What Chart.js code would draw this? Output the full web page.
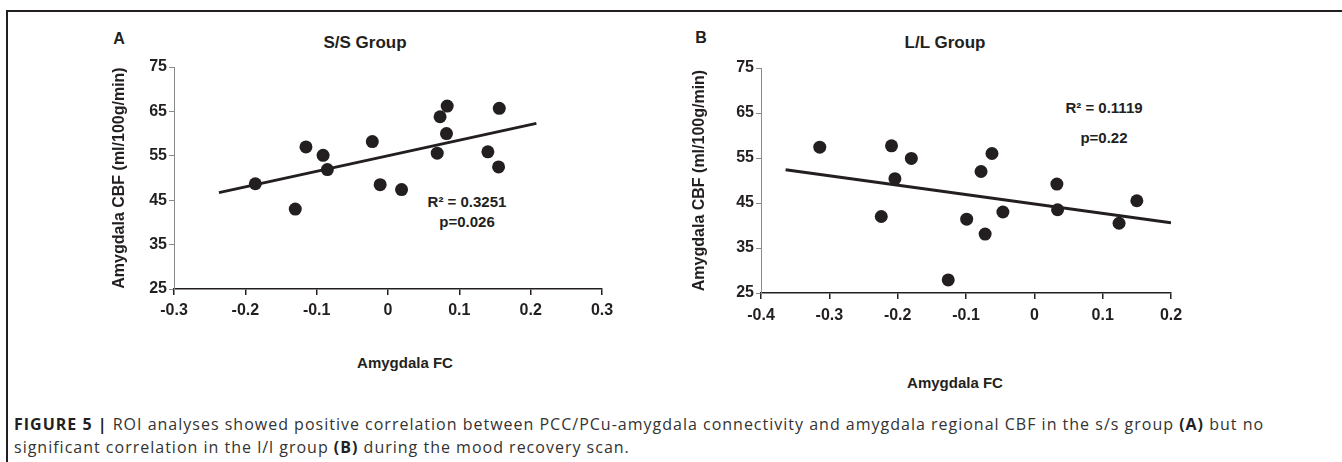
<!DOCTYPE html>
<html>
<head>
<meta charset="utf-8">
<script src="https://cdn.jsdelivr.net/npm/chart.js@4.4.0/dist/chart.umd.min.js"></script>
<style>
  body { margin: 0; width: 1342px; height: 462px; background: #fff; position: relative; overflow: hidden;
         font-family: "Liberation Sans", Arial, sans-serif; color: #231f20; }
  .frame-top { position: absolute; left: 6px; top: 10px; width: 1336px; height: 2px; background: #231f20; }
  .frame-left { position: absolute; left: 6px; top: 10px; width: 2px; height: 452px; background: #231f20; }
  .lbl { position: absolute; font-weight: bold; white-space: nowrap; transform: translate(-50%, -50%); }
  canvas { position: absolute; }
  .caption { position: absolute; left: 14px; top: 413px; font-family: "Open Sans", sans-serif; font-size: 16px;
             letter-spacing: 1px; line-height: 23px; color: #333; white-space: nowrap; }
  .caption b { color: #231f20; }
</style>
</head>
<body>
<div class="frame-top"></div>
<div class="frame-left"></div>

<div class="lbl" style="left:119px; top:39px; font-size:16px;">A</div>
<div class="lbl" style="left:365px; top:43px; font-size:17px;">S/S Group</div>
<div class="lbl" style="left:467px; top:201px; font-size:15px;">R² = 0.3251</div>
<div class="lbl" style="left:467px; top:221px; font-size:15px;">p=0.026</div>
<div class="lbl" style="left:405px; top:362px; font-size:15px;">Amygdala FC</div>

<div class="lbl" style="left:701px; top:38px; font-size:16px;">B</div>
<div class="lbl" style="left:945px; top:43px; font-size:17px;">L/L Group</div>
<div class="lbl" style="left:1104px; top:107px; font-size:15px;">R² = 0.1119</div>
<div class="lbl" style="left:1104px; top:137px; font-size:15px;">p=0.22</div>
<div class="lbl" style="left:955px; top:382px; font-size:15px;">Amygdala FC</div>

<canvas id="chartA" width="560" height="360" style="left:90px; top:20px;"></canvas>
<canvas id="chartB" width="560" height="360" style="left:680px; top:20px;"></canvas>

<div class="caption"><b>FIGURE 5 |</b> ROI analyses showed positive correlation between PCC/PCu-amygdala connectivity and amygdala regional CBF in the s/s group <b>(A)</b> but no<br>significant correlation in the l/l group <b>(B)</b> during the mood recovery scan.</div>

<script>
// S/S group: amygdala FC vs amygdala CBF
let ssX = [-0.186, -0.130, -0.115, -0.091, -0.085, -0.022, -0.011, 0.019, 0.069, 0.073, 0.083, 0.082, 0.140, 0.156, 0.155];
let ssY = [48.7, 43.0, 57.0, 55.1, 51.9, 58.2, 48.5, 47.4, 55.6, 63.8, 66.2, 60.0, 55.9, 65.7, 52.5];
// linear trendline ends
let ssFitX = [-0.237, 0.208];
let ssFitY = [46.7, 62.3];

// L/L group
let llX = [-0.314, -0.224, -0.209, -0.204, -0.180, -0.126, -0.099, -0.078, -0.072, -0.062, -0.046, 0.033, 0.034, 0.124, 0.150];
let llY = [57.4, 42.0, 57.7, 50.4, 54.9, 27.9, 41.4, 52.0, 38.1, 56.0, 43.0, 49.2, 43.5, 40.5, 45.5];
let llFitX = [-0.364, 0.2];
let llFitY = [52.4, 40.6];

let yTitle = 'Amygdala CBF (ml/100g/min)';
let ink = '#231f20';

function toPoints(xs, ys) {
  return xs.map((x, i) => ({ x: x, y: ys[i] }));
}

function makeChart(id, xs, ys, fitX, fitY, xMin, xMax, box) {
  let ctx = document.getElementById(id).getContext('2d');
  return new Chart(ctx, {
    type: 'scatter',
    data: {
      datasets: [{
        data: toPoints(xs, ys),
        backgroundColor: ink,
        borderWidth: 0,
        pointRadius: 6.5,
        pointHoverRadius: 6.5
      }, {
        data: toPoints(fitX, fitY),
        showLine: true,
        borderColor: ink,
        borderWidth: 3,
        pointRadius: 0
      }]
    },
    options: {
      responsive: false,
      animation: false,
      layout: { padding: { left: 0, top: box.top, right: box.right, bottom: 0 } },
      plugins: { legend: { display: false }, tooltip: { enabled: false } },
      scales: {
        x: {
          type: 'linear',
          min: xMin,
          max: xMax,
          afterFit: (s) => { s.height = box.xh; },
          ticks: {
            stepSize: 0.1,
            padding: box.xpad,
            color: ink,
            font: { family: 'Liberation Sans', weight: 'bold', size: 16 },
            callback: (v) => String(Number(v.toFixed(1)))
          },
          grid: { drawOnChartArea: false, tickLength: 6, color: ink, lineWidth: 1.5 },
          border: { color: ink, width: 1.5 }
        },
        y: {
          min: 25,
          max: 75,
          afterFit: (s) => { s.width = box.yw; },
          ticks: {
            stepSize: 10,
            padding: 2,
            color: ink,
            font: { family: 'Liberation Sans', weight: 'bold', size: 16 }
          },
          grid: { drawOnChartArea: false, tickLength: 5, color: '#8a8a8a', lineWidth: 1 },
          border: { color: '#8a8a8a', width: 1 },
          title: {
            display: true,
            text: yTitle,
            color: ink,
            font: { family: 'Liberation Sans', weight: 'bold', size: 16 },
            padding: { top: box.tpad, bottom: 0 }
          }
        }
      }
    }
  });
}

makeChart('chartA', ssX, ssY, ssFitX, ssFitY, -0.3, 0.3,
  { top: 47, right: 48, yw: 84, xh: 91, xpad: 6, tpad: 20 });
makeChart('chartB', llX, llY, llFitX, llFitY, -0.4, 0.2,
  { top: 48, right: 69, yw: 81, xh: 87, xpad: 7, tpad: 10 });
</script>
</body>
</html>
